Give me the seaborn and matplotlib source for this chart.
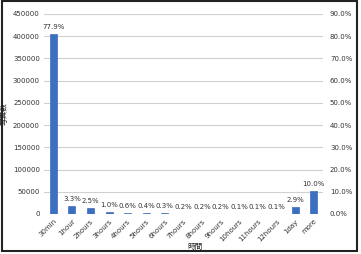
import matplotlib
matplotlib.use("Agg")
import matplotlib.pyplot as plt
import seaborn as sns
import pandas as pd
from matplotlib.patches import Rectangle

categories = ["30min", "1hour", "2hours", "3hours", "4hours", "5hours", "6hours",
              "7hours", "8hours", "9hours", "10hours", "11hours", "12hours", "1day", "more"]
counts = [405000, 17200, 13000, 5200, 3100, 2100, 1600, 1000, 1000, 1000, 500, 500, 500, 15100, 52000]
pct_labels = ["77.9%", "3.3%", "2.5%", "1.0%", "0.6%", "0.4%", "0.3%", "0.2%", "0.2%",
              "0.2%", "0.1%", "0.1%", "0.1%", "2.9%", "10.0%"]
left_ticks = [0, 50000, 100000, 150000, 200000, 250000, 300000, 350000, 400000, 450000]
right_ticks = [0, 10, 20, 30, 40, 50, 60, 70, 80, 90]

sns.set_theme(style="white")
plt.rcParams['font.family'] = ['DejaVu Sans', 'Noto Sans CJK JP']

df = pd.DataFrame({"cat": categories, "count": counts})

fig = plt.figure(figsize=(3.61, 2.54), dpi=100)
ax = fig.add_axes([44/361, 1 - 214/254, (323-44)/361, (214-14)/254])

sns.barplot(data=df, x="cat", y="count", ax=ax, color="#3b6fc2", width=0.38,
            saturation=1, edgecolor="#2a5aa8", linewidth=0.4, zorder=3)

ax.set_ylim(0, 450000)
ax.set_yticks(left_ticks)
ax.set_yticklabels([str(t) for t in left_ticks], fontsize=5, color="#333333")
ax.yaxis.grid(True, color="#d0d0d0", linewidth=0.8, zorder=0)
ax.set_axisbelow(True)
for s in ax.spines.values():
    s.set_visible(False)
ax.tick_params(axis="both", length=0, pad=3)
ax.set_xticks(range(len(categories)))
ax.set_xticklabels(categories, rotation=45, ha="right", rotation_mode="anchor",
                   fontsize=5, color="#333333")
cjk = ['Noto Sans CJK JP', 'DejaVu Sans']
ax.set_xlabel("時間", fontsize=5.5, family=cjk, color="#222222")
ax.xaxis.set_label_coords(0.54, -0.145)
ax.set_ylabel("写真数", fontsize=5.5, family=cjk, color="#222222", labelpad=3)

for i, (c, lab) in enumerate(zip(counts, pct_labels)):
    ax.text(i, c + 9000, lab, ha="center", va="bottom", fontsize=5, color="#333333")

ax2 = ax.twinx()
ax2.set_ylim(0, 90)
ax2.set_yticks(right_ticks)
ax2.set_yticklabels([f"{t:.1f}%" for t in right_ticks], fontsize=5, color="#333333")
ax2.tick_params(axis="y", length=0, pad=5)
for s in ax2.spines.values():
    s.set_visible(False)

fig.patches.append(Rectangle((2/361, 3/254), 355/361, 250/254, transform=fig.transFigure,
                             fill=False, edgecolor="#222222", linewidth=1.5))

fig.savefig("out.png", dpi=100)
